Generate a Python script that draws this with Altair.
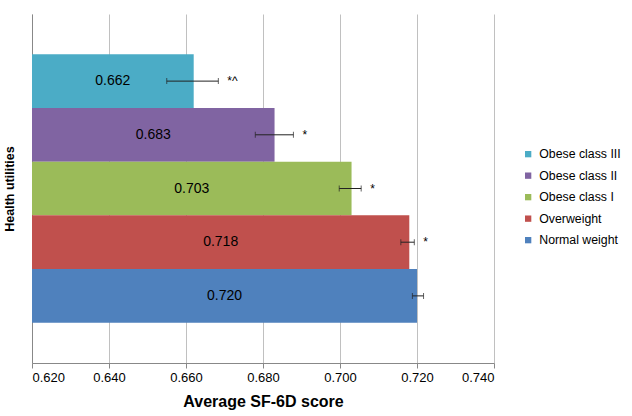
import altair as alt
import pandas as pd

categories = ["Obese class III", "Obese class II", "Obese class I", "Overweight", "Normal weight"]
values = [0.662, 0.683, 0.703, 0.718, 0.720]
err_low = [0.655, 0.678, 0.6998, 0.7158, 0.7188]
err_high = [0.6684, 0.6879, 0.7055, 0.7193, 0.7217]
markers = ["*^", "*", "*", "*", ""]
colors = ["#4BACC6", "#8064A2", "#9BBB59", "#C0504D", "#4F81BD"]
x_ticks = [0.620, 0.640, 0.660, 0.680, 0.700, 0.720, 0.740]
x_min, x_max = 0.620, 0.740

df = pd.DataFrame({
    "group": categories,
    "value": values,
    "lo": err_low,
    "hi": err_high,
    "mark": markers,
})

FONT = "Liberation Sans"

y_enc = alt.Y(
    "group:N",
    sort=categories,
    scale=alt.Scale(paddingInner=0, paddingOuter=0.75),
    axis=alt.Axis(
        title="Health utilities", labels=False, ticks=False, domain=True,
        domainColor="#888888", grid=False, titleFont=FONT, titleFontSize=12.5,
        titleFontWeight="bold", titleColor="#000000", titlePadding=16,
    ),
)

x_scale = alt.Scale(domain=[x_min, x_max], zero=False, nice=False)

base = alt.Chart(df).transform_calculate(
    base=str(x_min),
    mid=f"({x_min} + datum.value) / 2",
)

bars = base.mark_bar(clip=True).encode(
    x=alt.X(
        "value:Q", scale=x_scale,
        axis=alt.Axis(
            values=x_ticks, format=".3f", grid=True, gridColor="#C0C0C0",
            domainColor="#888888", tickColor="#888888", tickSize=5,
            labelFont=FONT, labelFontSize=13, labelColor="#000000", labelPadding=3,
            title="Average SF-6D score", titleFont=FONT, titleFontSize=16,
            titleFontWeight="bold", titleColor="#000000", titlePadding=9,
        ),
    ),
    x2="base:Q",
    y=y_enc,
    color=alt.Color(
        "group:N",
        scale=alt.Scale(domain=categories, range=colors),
        legend=alt.Legend(
            title=None, orient="none", legendX=490, legendY=134,
            symbolType="square", symbolSize=40, symbolStrokeWidth=0,
            labelFont=FONT, labelFontSize=12.3, labelColor="#000000",
            labelOffset=5, rowPadding=8.5, padding=0,
        ),
    ),
)

labels = base.mark_text(font=FONT, fontSize=14, color="#000000").encode(
    x=alt.X("mid:Q", scale=x_scale),
    y=alt.Y("group:N", sort=categories),
    text=alt.Text("value:Q", format=".3f"),
)

err_rule = base.mark_rule(color="#222222", strokeWidth=1).encode(
    x=alt.X("lo:Q", scale=x_scale),
    x2="hi:Q",
    y=alt.Y("group:N", sort=categories),
)

cap_lo = base.mark_tick(color="#222222", thickness=1, size=6, orient="vertical").encode(
    x=alt.X("lo:Q", scale=x_scale),
    y=alt.Y("group:N", sort=categories),
)
cap_hi = base.mark_tick(color="#222222", thickness=1, size=6, orient="vertical").encode(
    x=alt.X("hi:Q", scale=x_scale),
    y=alt.Y("group:N", sort=categories),
)

stars = base.mark_text(font=FONT, fontSize=12, color="#000000", align="left", dx=9).encode(
    x=alt.X("hi:Q", scale=x_scale),
    y=alt.Y("group:N", sort=categories),
    text="mark:N",
)

chart = alt.layer(bars, labels, err_rule, cap_lo, cap_hi, stars).properties(
    width=462,
    height=349,
    autosize=alt.AutoSizeParams(type="none"),
    padding={"left": 32, "top": 14, "right": 138, "bottom": 53},
    background="#FFFFFF",
).configure_view(strokeWidth=0)

chart.save("out.html", embed_options={"renderer": "svg", "actions": False})
